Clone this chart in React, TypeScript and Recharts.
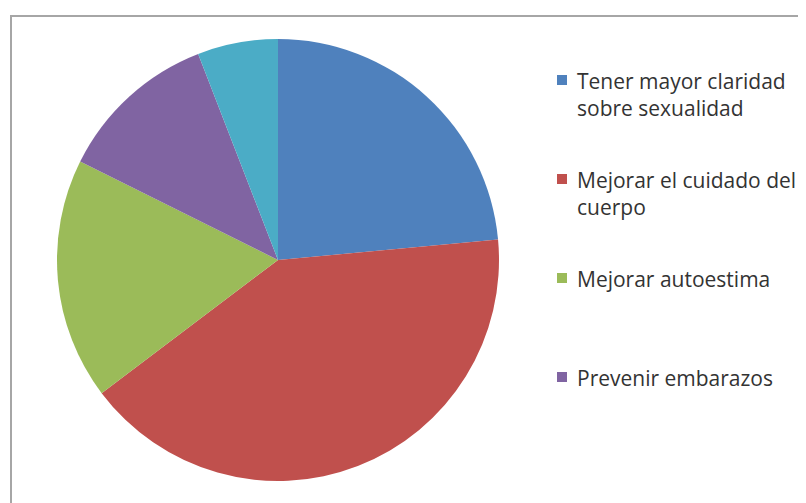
import React from 'react';
import { PieChart, Pie, Cell, Legend } from 'recharts';

const categories = [
  'Tener mayor claridad sobre sexualidad',
  'Mejorar el cuidado del cuerpo',
  'Mejorar autoestima',
  'Prevenir embarazos',
  'Otros',
];
const values = [4, 7, 3, 2, 1];
const colors = ['#4F81BD', '#C0504D', '#9BBB59', '#8064A2', '#4BACC6'];
// la leyenda original solo muestra las cuatro primeras
const legendLines = [
  ['Tener mayor claridad', 'sobre sexualidad'],
  ['Mejorar el cuidado del', 'cuerpo'],
  ['Mejorar autoestima'],
  ['Prevenir embarazos'],
];

const data = categories.map((name, i) => ({ name, value: values[i] }));

const LegendBox = () => (
  <div style={{ fontFamily: '"Open Sans", sans-serif', fontSize: 21, lineHeight: '27px', color: '#333' }}>
    {legendLines.map((lines, i) => (
      <div key={i} style={{ position: 'relative', height: 99, paddingLeft: 29 }}>
        <span
          style={{
            position: 'absolute',
            left: 9,
            top: 7,
            width: 10,
            height: 10,
            background: colors[i],
          }}
        />
        {lines.map((l, j) => (
          <div key={j} style={{ whiteSpace: 'nowrap' }}>{l}</div>
        ))}
      </div>
    ))}
  </div>
);

const App: React.FC = () => {
  return (
    <div style={{ position: 'relative', width: 798, height: 495 }}>
      <div
        style={{
          position: 'absolute',
          left: 2,
          top: 7,
          width: 796,
          height: 488,
          borderTop: '2px solid #a6a6a6',
          borderLeft: '2px solid #a6a6a6',
          boxSizing: 'border-box',
        }}
      />
      <div style={{ position: 'absolute', left: 0, top: 0 }}>
        <PieChart width={798} height={495} margin={{ top: 0, right: 0, bottom: 0, left: 0 }}>
          <Pie
            data={data}
            dataKey="value"
            nameKey="name"
            cx={270}
            cy={252}
            outerRadius={221}
            startAngle={90}
            endAngle={-270}
            stroke="none"
            isAnimationActive={false}
          >
            {data.map((entry, index) => (
              <Cell key={`cell-${index}`} fill={colors[index]} />
            ))}
          </Pie>
          <Legend
            layout="vertical"
            align="right"
            verticalAlign="top"
            content={() => <LegendBox />}
            wrapperStyle={{ left: 540, top: 60, width: 258 }}
          />
        </PieChart>
      </div>
    </div>
  );
};

export default App;
